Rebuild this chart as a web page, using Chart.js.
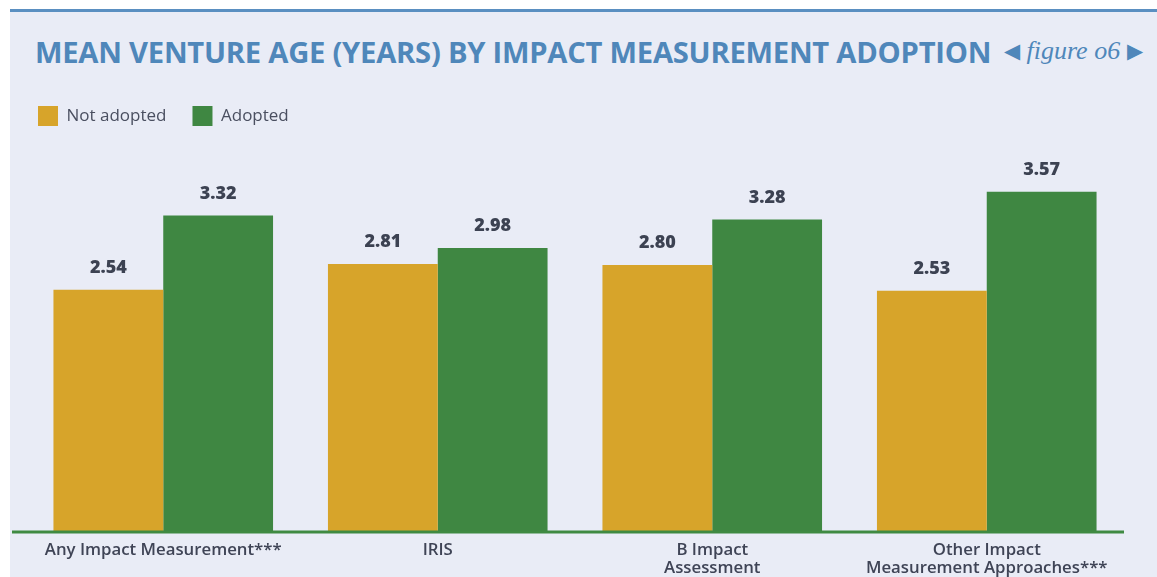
<!DOCTYPE html>
<html lang="en">
<head>
    <meta charset="UTF-8">
    <title>Mean Venture Age by Impact Measurement Adoption</title>
    <script src="https://cdn.jsdelivr.net/npm/chart.js@4.4.0/dist/chart.umd.min.js"></script>
    <style>
        html, body { margin: 0; padding: 0; background: #fff; }
        #wrap { position: relative; width: 1157px; height: 577px; overflow: hidden; }
        #panel { position: absolute; left: 10px; top: 12px; width: 1147px; height: 565px; background: #e9ecf6; }
        #rule { position: absolute; left: 10px; top: 9px; width: 1147px; height: 3px; background: #5a8fc1; }
        #title { position: absolute; left: 35px; top: 32px; font: 700 29.2px "Open Sans", sans-serif; color: #4f87ba; white-space: nowrap; letter-spacing: -0.25px; }
        #fig { position: absolute; left: 1004px; top: 36px; font: italic 26px "Liberation Serif", serif; color: #4f87ba; white-space: nowrap; }
        #fig span { font-style: normal; font-size: 21px; vertical-align: 1px; }
        canvas { position: absolute; left: 0; top: 0; }
    </style>
</head>
<body>
<div id="wrap">
    <div id="panel"></div>
    <div id="rule"></div>
    <div id="title">MEAN VENTURE AGE (YEARS) BY IMPACT MEASUREMENT ADOPTION</div>
    <div id="fig"><span>&#9664;</span> figure o6 <span>&#9654;</span></div>
    <!-- a bit taller than the page: the axis reserves more room than the labels need -->
    <canvas id="myChart" width="1157" height="587"></canvas>
</div>

<script type="text/javascript">
    const labels = [
        'Any Impact Measurement***',
        'IRIS',
        ['B Impact', 'Assessment'],
        ['Other Impact', 'Measurement Approaches***']
    ];
    const notAdopted = [2.54, 2.81, 2.80, 2.53];
    const adopted = [3.32, 2.98, 3.28, 3.57];

    const textColor = '#3c4252';

    // fixed legend block height and a small shift to the left
    const legendLayout = {
        id: 'legendLayout',
        beforeInit(chart) {
            const fit = chart.legend.fit;
            chart.legend.fit = function () {
                fit.bind(chart.legend)();
                this.height = 71;
            };
        },
        afterLayout(chart) {
            chart.legend.left = chart.chartArea.left - 14;
        }
    };

    // value labels above the bars + green base line
    const barValues = {
        id: 'barValues',
        afterDatasetsDraw(chart) {
            const ctx = chart.ctx;
            ctx.save();
            ctx.font = '800 18px "Open Sans", sans-serif';
            ctx.fillStyle = textColor;
            ctx.textAlign = 'center';
            ctx.textBaseline = 'middle';
            chart.data.datasets.forEach((ds, i) => {
                chart.getDatasetMeta(i).data.forEach((bar, j) => {
                    ctx.fillText(ds.data[j].toFixed(2), bar.x, bar.y - 22);
                });
            });
            const y0 = chart.scales.y.getPixelForValue(0);
            ctx.strokeStyle = '#3f8a42';
            ctx.lineWidth = 3;
            ctx.beginPath();
            ctx.moveTo(12, y0 + 1);
            ctx.lineTo(chart.chartArea.right, y0 + 1);
            ctx.stroke();
            ctx.restore();
        }
    };

    const ctx = document.getElementById('myChart').getContext('2d');
    const myChart = new Chart(ctx, {
        type: 'bar',
        data: {
            labels: labels,
            datasets: [{
                label: 'Not adopted',
                data: notAdopted,
                backgroundColor: '#d7a42a'
            }, {
                label: 'Adopted',
                data: adopted,
                backgroundColor: '#3f8742'
            }]
        },
        options: {
            responsive: false,
            animation: false,
            layout: { padding: { left: 26, right: 33, top: 80, bottom: 0 } },
            categoryPercentage: 0.8,
            barPercentage: 1.0,
            plugins: {
                legend: {
                    position: 'top',
                    align: 'start',
                    labels: {
                        boxWidth: 20,
                        boxHeight: 20,
                        padding: 26,
                        color: '#4a4f60',
                        font: { family: '"Open Sans", sans-serif', size: 17 }
                    }
                },
                tooltip: { enabled: false }
            },
            scales: {
                x: {
                    grid: { display: false, drawTicks: false },
                    border: { display: false },
                    ticks: {
                        color: '#3f4456',
                        padding: 10,
                        maxRotation: 0,
                        autoSkip: false,
                        font: { family: '"Open Sans", sans-serif', size: 16.8, weight: 600, lineHeight: '18px' }
                    }
                },
                y: {
                    display: false,
                    min: 0,
                    max: 4
                }
            }
        },
        plugins: [legendLayout, barValues]
    });
</script>
</body>
</html>
